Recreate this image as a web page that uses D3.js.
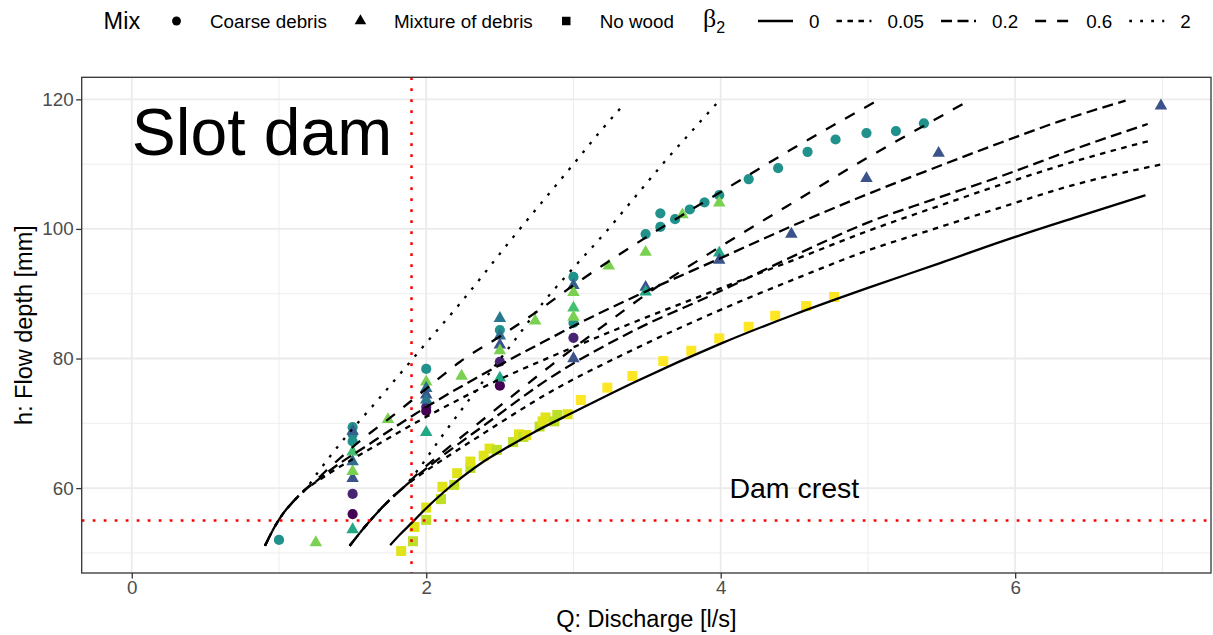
<!DOCTYPE html>
<html>
<head>
<meta charset="utf-8">
<script src="https://cdn.jsdelivr.net/npm/d3@7"></script>
<style>
  body { margin: 0; background: #fff; }
  svg { font-family: "Liberation Sans", Arial, sans-serif; }
</style>
</head>
<body>
<svg id="chart" width="1213" height="635"></svg>
<script>
// ---- data ----
// Coarse debris (circles): discharge Q [l/s], depth h [mm], run id (colour)
const coarseQ   = [1.0, 1.5, 1.5, 1.5, 1.5, 1.5, 2.0, 2.0, 2.0, 2.5, 2.5, 2.5, 3.0, 3.0, 3.0,
                   3.49, 3.59, 3.59, 3.69, 3.79, 3.89, 3.99, 4.19, 4.39, 4.59, 4.78, 4.99, 5.19, 5.38];
const coarseH   = [52.0, 69.4, 68.3, 67.2, 59.1, 56.0, 78.4, 72.5, 71.9, 84.4, 79.5, 75.8, 92.6, 85.5, 83.2,
                   99.2, 102.4, 100.3, 101.5, 103.0, 104.1, 105.2, 107.7, 109.4, 111.9, 113.8, 114.8, 115.1, 116.3];
const coarseRun = [10, 10, 9, 10, 2, 0, 10, 2, 0, 10, 2, 0, 10, 10, 2,
                   10, 10, 10, 10, 10, 10, 10, 10, 10, 10, 10, 10, 10, 10];

// Mixture of debris (triangles)
const mixQ   = [1.25, 1.5, 1.5, 1.5, 1.5, 1.5, 1.5, 1.74, 2.0, 2.0, 2.0, 2.0, 2.0, 2.24,
                2.5, 2.5, 2.5, 2.5, 2.5, 2.74, 3.0, 3.0, 3.0, 3.0, 3.0, 3.24, 3.49, 3.49, 3.49,
                3.74, 3.99, 3.99, 3.99, 4.48, 4.99, 5.48, 6.99];
const mixH   = [51.6, 53.6, 61.5, 62.6, 64.1, 65.6, 68.8, 70.6, 68.6, 76.4, 75.4, 74.4, 73.6, 77.3,
                86.2, 83.5, 82.1, 81.2, 77.0, 85.8, 91.3, 90.2, 87.8, 86.4, 80.0, 94.3, 96.4, 91.0, 90.3,
                102.2, 104.0, 96.3, 95.2, 99.2, 107.8, 111.7, 119.0];
const mixRun = [16, 12, 5, 16, 7, 14, 6, 16, 12, 16, 7, 5, 8, 16,
                8, 7, 5, 16, 12, 16, 6, 16, 14, 16, 5, 16, 16, 5, 12,
                16, 16, 12, 5, 5, 5, 5, 5];

// No wood (squares)
const noWoodQ   = [1.83, 1.91, 1.92, 2.0, 2.0, 2.10, 2.11, 2.19, 2.21, 2.30, 2.30, 2.39, 2.43, 2.48,
                   2.59, 2.63, 2.66, 2.68, 2.77, 2.79, 2.81, 2.87, 2.89, 2.96,
                   3.05, 3.23, 3.40, 3.61, 3.80, 3.99, 4.19, 4.37, 4.58, 4.77];
const noWoodH   = [50.3, 51.8, 54.0, 55.1, 57.0, 58.3, 60.2, 60.5, 62.3, 63.1, 64.1, 65.0, 66.1, 65.9,
                   67.1, 68.3, 67.9, 68.2, 69.5, 70.3, 70.9, 70.3, 71.3, 71.4,
                   73.6, 75.5, 77.3, 79.6, 81.2, 83.1, 84.9, 86.6, 88.1, 89.5];
const noWoodRun = [19, 18, 19, 18, 19, 18, 19, 18, 19, 18, 19, 19, 19, 18,
                   18, 19, 18, 19, 18, 19, 19, 18, 18, 19,
                   20, 20, 20, 20, 20, 20, 20, 20, 20, 20];

// model curves h(Q), one per beta2 and start point
const trunkA = [[0.905, 51.1], [0.96, 53.6], [1.01, 55.5], [1.1, 58.0], [1.18, 59.8]];
const trunkB = [[1.48, 51.1], [1.55, 53.1], [1.62, 55.0], [1.7, 57.0], [1.78, 58.8], [1.85, 60.2]];

const beta2A  = [[1.26, 62.3], [1.35, 65.0], [1.45, 67.8], [1.66, 73.3], [2.0, 82.4], [2.23, 88.5],
                 [2.6, 99.0], [3.0, 110.0], [3.18, 115.0], [3.33, 118.9]];
const beta06A = [[1.25, 61.2], [1.35, 63.3], [1.53, 66.9], [1.78, 71.3], [2.09, 77.0], [2.23, 79.5],
                 [2.5, 83.4], [2.75, 87.2], [3.0, 91.3], [3.2, 94.4], [3.5, 98.8], [4.0, 105.7],
                 [4.49, 112.4], [5.04, 119.5]];
const beta02A = [[1.25, 61.0], [1.35, 62.8], [1.6, 66.6], [2.0, 72.5], [2.5, 79.0], [2.84, 83.1],
                 [3.0, 85.0], [3.41, 89.5], [4.0, 95.5], [4.54, 101.0], [4.99, 105.3], [5.45, 109.4],
                 [5.9, 113.3], [6.3, 116.6], [6.75, 119.8]];
const beta005A = [[1.25, 60.9], [1.35, 62.4], [1.6, 65.8], [2.0, 71.0], [2.5, 76.8], [2.84, 80.2],
                  [3.4, 85.5], [3.86, 89.6], [4.54, 95.6], [4.99, 99.6], [5.45, 103.3], [5.9, 106.8],
                  [6.4, 110.4], [6.93, 113.7]];
const beta2B  = [[1.95, 63.0], [2.1, 67.8], [2.37, 76.0], [2.6, 82.8], [2.8, 88.8], [3.02, 94.5],
                 [3.23, 99.8], [3.41, 104.7], [3.62, 110.4], [3.8, 115.0], [3.97, 119.3]];
const beta06B = [[1.95, 62.4], [2.1, 65.3], [2.3, 69.0], [2.6, 74.5], [2.84, 78.8], [3.2, 85.0],
                 [3.5, 90.0], [4.0, 97.3], [4.45, 103.5], [4.99, 110.9], [5.3, 114.9], [5.67, 119.6]];
const beta02B = [[1.95, 62.1], [2.1, 64.8], [2.4, 69.8], [2.84, 77.0], [3.4, 84.2], [3.97, 90.1],
                 [4.54, 96.3], [4.99, 100.9], [5.45, 104.6], [5.9, 108.1], [6.4, 112.3], [6.9, 116.2]];
const beta005B = [[1.95, 61.9], [2.1, 64.2], [2.4, 68.6], [2.84, 74.8], [3.4, 81.3], [4.09, 88.4],
                  [4.54, 92.6], [4.99, 96.6], [5.45, 100.0], [5.9, 103.3], [6.4, 106.8], [7.0, 110.0]];
const beta0   = [[1.755, 51.2], [1.82, 52.8], [1.9, 54.6], [2.0, 56.9], [2.12, 59.4], [2.25, 61.8],
                 [2.39, 64.1], [2.55, 66.3], [2.73, 68.6], [3.0, 71.7], [3.41, 76.3], [4.0, 82.3],
                 [4.5, 86.8], [5.0, 90.9], [5.5, 94.8], [5.9, 98.0], [6.4, 101.7], [6.885, 105.2]];

const betaLevels = ["0", "0.05", "0.2", "0.6", "2"];
const mixLevels = ["Coarse debris", "Mixture of debris", "No wood"];
const xTicks = [0, 2, 4, 6];
const yTicks = [60, 80, 100, 120];
const damCrestQ = 1.9;
const damCrestH = 55;

// ---- setup ----
const svg = d3.select("#chart");
const x = d3.scaleLinear().domain([-0.34, 7.33]).range([81.7, 1211]);
const y = d3.scaleLinear().domain([46.9, 123.4]).range([573, 77.3]);
const colour = d3.scaleSequential(d3.interpolateViridis).domain([0, 20]);
const unit = 2.75;
const lty = {"0": null, "0.05": "22", "0.2": "42", "0.6": "44", "2": "13"};
const dash = k => lty[k] ? lty[k].split("").map(d => +d * unit).join(" ") : null;

const curves = [
  {beta: "2", pts: trunkA.concat(beta2A)},
  {beta: "0.6", pts: trunkA.concat(beta06A)},
  {beta: "0.2", pts: trunkA.concat(beta02A)},
  {beta: "0.05", pts: trunkA.concat(beta005A)},
  {beta: "2", pts: trunkB.concat(beta2B)},
  {beta: "0.6", pts: trunkB.concat(beta06B)},
  {beta: "0.2", pts: trunkB.concat(beta02B)},
  {beta: "0.05", pts: trunkB.concat(beta005B)},
  {beta: "0", pts: beta0}
];

const pts = [];
coarseQ.forEach((q, i) => pts.push({q, h: coarseH[i], run: coarseRun[i], mix: "Coarse debris"}));
mixQ.forEach((q, i) => pts.push({q, h: mixH[i], run: mixRun[i], mix: "Mixture of debris"}));
noWoodQ.forEach((q, i) => pts.push({q, h: noWoodH[i], run: noWoodRun[i], mix: "No wood"}));

const shape = {
  "Coarse debris": d3.symbol().type(d3.symbolCircle).size(82),
  "Mixture of debris": d3.symbol().type(d3.symbolTriangle).size(68),
  "No wood": d3.symbol().type(d3.symbolSquare).size(100)
};
const keyShape = {
  "Coarse debris": d3.symbol().type(d3.symbolCircle).size(62),
  "Mixture of debris": d3.symbol().type(d3.symbolTriangle).size(58),
  "No wood": d3.symbol().type(d3.symbolSquare).size(72)
};

// ---- panel ----
const x0 = x.range()[0], x1 = x.range()[1], y0 = y.range()[1], y1 = y.range()[0];
svg.append("defs").append("clipPath").attr("id", "clip")
  .append("rect").attr("x", x0).attr("y", y0).attr("width", x1 - x0).attr("height", y1 - y0);

svg.append("rect").attr("x", x0).attr("y", y0).attr("width", x1 - x0).attr("height", y1 - y0)
  .attr("fill", "#fff");

const grid = svg.append("g");
grid.selectAll(".minx").data([1, 3, 5, 7]).join("line")
  .attr("x1", d => x(d)).attr("x2", d => x(d)).attr("y1", y0).attr("y2", y1)
  .attr("stroke", "#ebebeb").attr("stroke-width", 0.9);
grid.selectAll(".miny").data([50, 70, 90, 110]).join("line")
  .attr("y1", d => y(d)).attr("y2", d => y(d)).attr("x1", x0).attr("x2", x1)
  .attr("stroke", "#ebebeb").attr("stroke-width", 0.9);
grid.selectAll(".majx").data(xTicks).join("line")
  .attr("x1", d => x(d)).attr("x2", d => x(d)).attr("y1", y0).attr("y2", y1)
  .attr("stroke", "#ebebeb").attr("stroke-width", 1.8);
grid.selectAll(".majy").data(yTicks).join("line")
  .attr("y1", d => y(d)).attr("y2", d => y(d)).attr("x1", x0).attr("x2", x1)
  .attr("stroke", "#ebebeb").attr("stroke-width", 1.8);

const plot = svg.append("g").attr("clip-path", "url(#clip)");

// points
plot.selectAll("path.pt").data(pts).join("path")
  .attr("class", "pt")
  .attr("transform", d => `translate(${x(d.q)},${y(d.h)})`)
  .attr("d", d => shape[d.mix]())
  .attr("fill", d => colour(d.run));

// model curves
const line = d3.line().x(d => x(d[0])).y(d => y(d[1])).curve(d3.curveMonotoneX);
plot.selectAll("path.curve").data(curves).join("path")
  .attr("class", "curve")
  .attr("d", d => line(d.pts))
  .attr("fill", "none").attr("stroke", "#000").attr("stroke-width", 2.3)
  .attr("stroke-dasharray", d => dash(d.beta));

// dam crest reference lines
plot.append("line").attr("x1", x0).attr("x2", x1).attr("y1", y(damCrestH)).attr("y2", y(damCrestH))
  .attr("stroke", "red").attr("stroke-width", 2.5).attr("stroke-dasharray", dash("2"));
plot.append("line").attr("x1", x(damCrestQ)).attr("x2", x(damCrestQ)).attr("y1", y0).attr("y2", y1)
  .attr("stroke", "red").attr("stroke-width", 2.5).attr("stroke-dasharray", dash("2"));

// annotations
plot.append("text").attr("x", x(0)).attr("y", y(115)).attr("dy", "0.36em")
  .attr("font-size", 66).attr("fill", "#000").text("Slot dam");
plot.append("text").attr("x", x(4.5)).attr("y", y(60)).attr("dy", "0.36em")
  .attr("text-anchor", "middle").attr("font-size", 28.5).attr("fill", "#000").text("Dam crest");

// border
svg.append("rect").attr("x", x0).attr("y", y0).attr("width", x1 - x0).attr("height", y1 - y0)
  .attr("fill", "none").attr("stroke", "#333").attr("stroke-width", 1.3);

// ---- axes ----
const xAxis = svg.append("g").attr("transform", `translate(0,${y1})`)
  .call(d3.axisBottom(x).tickValues(xTicks).tickSize(5.5).tickPadding(2.5));
const yAxis = svg.append("g").attr("transform", `translate(${x0},0)`)
  .call(d3.axisLeft(y).tickValues(yTicks).tickSize(5.5).tickPadding(2.5));
[xAxis, yAxis].forEach(a => {
  a.select(".domain").remove();
  a.selectAll(".tick line").attr("stroke", "#333").attr("stroke-width", 1.3);
  a.selectAll(".tick text").attr("fill", "#4d4d4d").attr("font-size", 18.8)
    .attr("font-family", "Liberation Sans, Arial, sans-serif");
});

svg.append("text").attr("x", (x0 + x1) / 2).attr("y", 627)
  .attr("text-anchor", "middle").attr("font-size", 23.5).text("Q: Discharge [l/s]");
svg.append("text").attr("transform", `translate(31.5,${(y0 + y1) / 2}) rotate(-90)`)
  .attr("text-anchor", "middle").attr("font-size", 23.5).text("h: Flow depth [mm]");

// ---- legend ----
const ly = 21;
const legend = svg.append("g");
const keyW = 37;

// Mix legend
legend.append("text").attr("x", 103.6).attr("y", ly).attr("dy", "0.36em")
  .attr("font-size", 23.5).text("Mix");
let cx = 158;
mixLevels.forEach(m => {
  legend.append("path").attr("transform", `translate(${cx + keyW / 2},${ly})`)
    .attr("d", keyShape[m]()).attr("fill", "#000");
  const t = legend.append("text").attr("x", cx + keyW + 15).attr("y", ly).attr("dy", "0.36em")
    .attr("font-size", 18.8).text(m);
  cx = cx + keyW + 15 + t.node().getComputedTextLength() + 15;
});

// beta2 legend
const bt = legend.append("text").attr("x", 703).attr("y", ly).attr("dy", "0.36em");
bt.append("tspan").attr("font-family", "Liberation Serif, DejaVu Serif, serif")
  .attr("font-size", 26).text("β");
bt.append("tspan").attr("font-size", 16).attr("dy", 6).text("2");
cx = 757;
betaLevels.forEach(b => {
  legend.append("line").attr("x1", cx + 1).attr("x2", cx + keyW - 1).attr("y1", ly).attr("y2", ly)
    .attr("stroke", "#000").attr("stroke-width", 2.3).attr("stroke-dasharray", dash(b));
  const t = legend.append("text").attr("x", cx + keyW + 15).attr("y", ly).attr("dy", "0.36em")
    .attr("font-size", 18.8).text(b);
  cx = cx + keyW + 15 + t.node().getComputedTextLength() + 16;
});
</script>
</body>
</html>
